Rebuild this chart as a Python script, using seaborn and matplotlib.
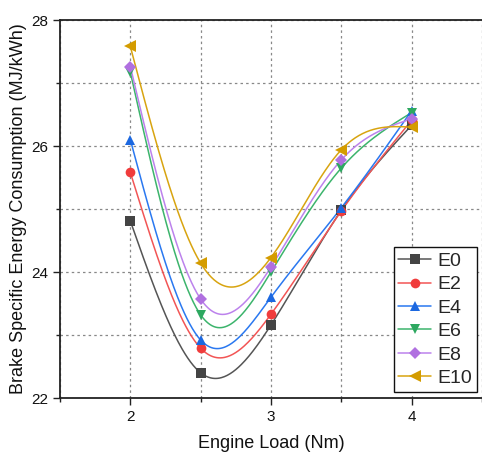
import numpy as np
import pandas as pd
import matplotlib
matplotlib.use("Agg")
import matplotlib.pyplot as plt
import seaborn as sns
from matplotlib.lines import Line2D
from matplotlib.ticker import MultipleLocator

# Engine load (Nm) and BSEC (MJ/kWh) for each blend
load = [2.0, 2.5, 3.0, 3.5, 4.0]
e0 = [24.81, 22.40, 23.16, 24.98, 26.33]
e2 = [25.58, 22.79, 23.33, 24.97, 26.41]
e4 = [26.10, 22.92, 23.60, 25.02, 26.56]
e6 = [27.17, 23.32, 24.00, 25.65, 26.53]
e8 = [27.26, 23.57, 24.08, 25.78, 26.43]
e10 = [27.58, 24.14, 24.23, 25.94, 26.30]

series = ["E0", "E2", "E4", "E6", "E8", "E10"]
values = [e0, e2, e4, e6, e8, e10]
colors = ["#444444", "#F03C3C", "#1C68E0", "#2DA860", "#B070E0", "#D49C00"]
line_colors = ["#555555", "#F25555", "#2A78F0", "#3CB46C", "#BC82EC", "#D8A410"]
markers = ["s", "o", "^", "v", "D", "<"]
msizes = [6.5, 7, 7.5, 7.5, 6.5, 8]


def natural_spline(x, y, xs):
    x = np.asarray(x, float)
    y = np.asarray(y, float)
    n = len(x)
    h = np.diff(x)
    A = np.zeros((n, n))
    b = np.zeros(n)
    A[0, 0] = A[-1, -1] = 1.0
    for i in range(1, n - 1):
        A[i, i - 1] = h[i - 1]
        A[i, i] = 2 * (h[i - 1] + h[i])
        A[i, i + 1] = h[i]
        b[i] = 6 * ((y[i + 1] - y[i]) / h[i] - (y[i] - y[i - 1]) / h[i - 1])
    m = np.linalg.solve(A, b)
    idx = np.clip(np.searchsorted(x, xs) - 1, 0, n - 2)
    x0, x1 = x[idx], x[idx + 1]
    hh = x1 - x0
    t0, t1 = x1 - xs, xs - x0
    return (m[idx] * t0 ** 3 / (6 * hh) + m[idx + 1] * t1 ** 3 / (6 * hh)
            + (y[idx] / hh - m[idx] * hh / 6) * t0
            + (y[idx + 1] / hh - m[idx + 1] * hh / 6) * t1)


xs = np.linspace(load[0], load[-1], 300)
curves = pd.DataFrame({
    "load": np.tile(xs, len(series)),
    "bsec": np.concatenate([natural_spline(load, v, xs) for v in values]),
    "blend": np.repeat(series, len(xs)),
})

sns.set_theme(style="ticks")
plt.rcParams["font.family"] = ["Liberation Sans", "DejaVu Sans"]

fig = plt.figure(figsize=(4.82, 4.59), dpi=100)
ax = fig.add_axes([60 / 482, 1 - 398 / 459, 1 - 60 / 482, (398 - 20) / 459])

sns.lineplot(data=curves, x="load", y="bsec", hue="blend", hue_order=series,
             palette=dict(zip(series, line_colors)), linewidth=1.1,
             legend=False, ax=ax, zorder=3)
for s, v, c, m, ms in zip(series, values, colors, markers, msizes):
    ax.plot(load, v, linestyle="none", marker=m, color=c, markersize=ms,
            markeredgewidth=0, zorder=4)

ax.set_xlim(1.5, 4.5)
ax.set_ylim(22, 28)
ax.xaxis.set_major_locator(MultipleLocator(1))
ax.xaxis.set_minor_locator(MultipleLocator(0.5))
ax.yaxis.set_major_locator(MultipleLocator(2))
ax.yaxis.set_minor_locator(MultipleLocator(1))
ax.grid(True, which="both", linestyle=(0, (2, 2.5)), color="#888888", linewidth=0.9)
ax.set_axisbelow(True)

for side in ["left", "bottom", "top"]:
    ax.spines[side].set_color("#222222")
    ax.spines[side].set_linewidth(1.3)
ax.spines["right"].set_visible(False)
ax.tick_params(axis="both", which="major", direction="out", length=5, width=1,
               labelsize=11, color="#222222", labelcolor="#111111")
ax.tick_params(axis="both", which="minor", direction="out", length=3, width=1,
               color="#222222")

ax.set_xlabel("Engine Load (Nm)", fontsize=13, labelpad=8, color="#111111")
ax.set_ylabel("Brake Specific Energy Consumption (MJ/kWh)", fontsize=13,
              labelpad=3, color="#111111")

handles = [Line2D([0], [0], color=lc, marker=m, markerfacecolor=c,
                  markeredgewidth=0, markersize=ms, linewidth=1.1)
           for lc, c, m, ms in zip(line_colors, colors, markers, msizes)]
leg = ax.legend(handles, series, loc="lower right", bbox_to_anchor=(0.988, 0.016),
                fontsize=14, frameon=True, fancybox=False, framealpha=1,
                edgecolor="#111111", handlelength=1.7, handletextpad=0.3,
                borderpad=0.25, labelspacing=0.3, borderaxespad=0)
leg.get_frame().set_linewidth(1.0)

fig.savefig("out.png", dpi=100)
